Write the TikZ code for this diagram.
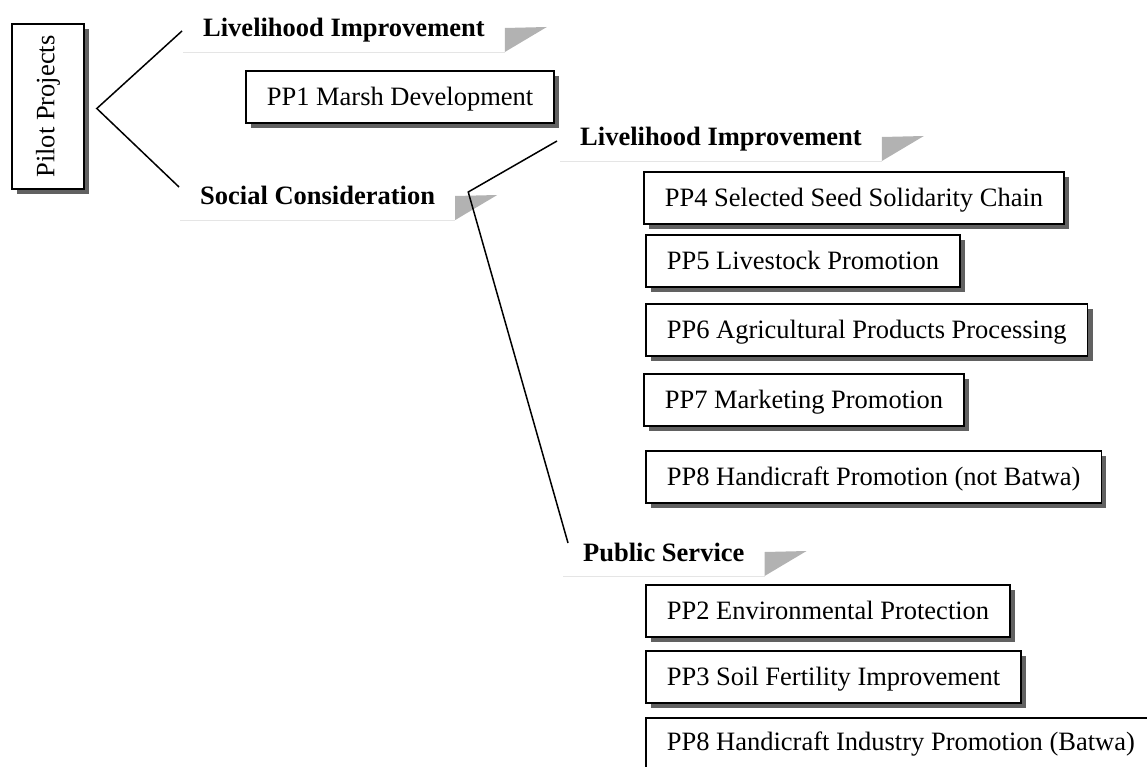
\documentclass[tikz,border=0pt]{standalone}
\usepackage{fontspec}
\setmainfont{Liberation Serif}
\usetikzlibrary{calc,shadows}

\tikzset{
  txt/.style={font=\fontsize{26.5pt}{30pt}\selectfont},
  ppbox/.style={txt, draw, line width=1.6pt, fill=white, anchor=north west,
    minimum height=52pt, inner xsep=21pt, text height=17.5pt, text depth=0pt,
    drop shadow={shadow xshift=5pt, shadow yshift=-5pt, fill=black!62, opacity=1}},
  heading/.style={font=\fontsize{26.5pt}{30pt}\selectfont\bfseries, anchor=base west,
    inner sep=0pt, text height=17.5pt, text depth=0pt},
  link/.style={draw=black, line width=1.5pt},
  uline/.style={draw=black!10, line width=0.9pt},
  flag/.style={fill=black!30, draw=none},
}

% light rule under a heading and the grey wedge after it
\newcommand\headmark[1]{%
  \draw[uline] ($(#1.base west)+(-20,15)$) -- ($(#1.base east)+(20,15)$);
  \fill[flag] ($(#1.base east)+(20,-9)$) -- ($(#1.base east)+(62,-10)$)
    -- ($(#1.base east)+(20,15)$) -- cycle;
}

\begin{document}
\begin{tikzpicture}[x=1pt, y=-1pt]
\useasboundingbox (0,0) rectangle (1147,767);

% root box
\node[ppbox, anchor=center, minimum width=72pt, minimum height=165pt, inner sep=0pt]
  (pilot) at (48,106.5) {};
\node[txt, rotate=90, inner sep=0pt] (pilottxt) at (pilot.center) {Pilot Projects};

% headings
\node[heading] (h1)  at (203,37)  {Livelihood Improvement};
\node[heading] (soc) at (200,205) {Social Consideration};
\node[heading] (h2)  at (580,146) {Livelihood Improvement};
\node[heading] (pub) at (583,561) {Public Service};

\headmark{h1}
\headmark{soc}
\headmark{h2}
\headmark{pub}

% project boxes
\node[ppbox] (pp1)  at (245,70)  {PP1 Marsh Development};
\node[ppbox] (pp4)  at (643,171) {PP4 Selected Seed Solidarity Chain};
\node[ppbox] (pp5)  at (645,234) {PP5 Livestock Promotion};
\node[ppbox] (pp6)  at (645,303) {PP6 Agricultural Products Processing};
\node[ppbox] (pp7)  at (643,373) {PP7 Marketing Promotion};
\node[ppbox] (pp8)  at (645,450) {PP8 Handicraft Promotion (not Batwa)};
\node[ppbox] (pp2)  at (645,584) {PP2 Environmental Protection};
\node[ppbox] (pp3)  at (645,650) {PP3 Soil Fertility Improvement};
\node[ppbox, minimum height=0pt, inner ysep=15pt, text depth=10pt]
  (pp8b) at (645,717) {PP8 Handicraft Industry Promotion (Batwa)};

% branching connectors
\coordinate (root) at ($(pilot.east)+(12,2)$);
\coordinate (fork) at ($(soc.base east)+(33,-13)$);
\draw[link] ($(h1.base west)+(-21,-6)$) -- (root) -- ($(soc.base west)+(-21,-18)$);
\draw[link] ($(h2.base west)+(-23,-5)$) -- (fork) -- ($(pub.base west)+(-15,-18)$);
\end{tikzpicture}
\end{document}
